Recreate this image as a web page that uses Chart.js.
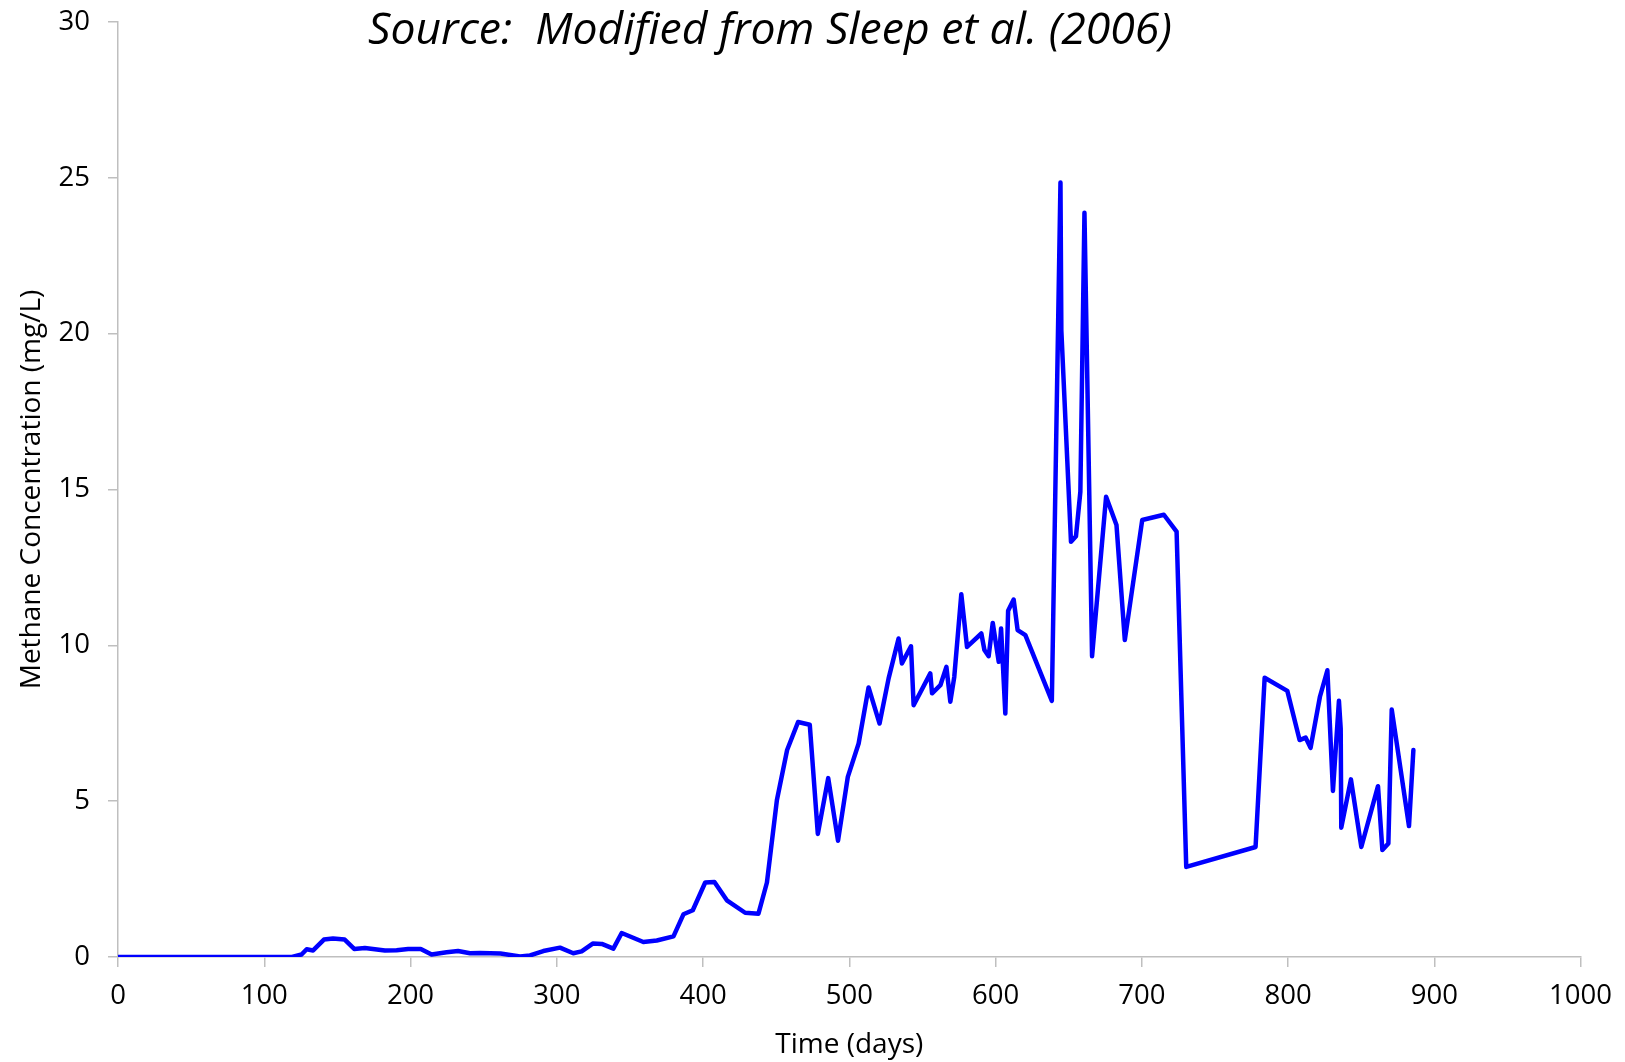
<!DOCTYPE html>
<html>
<head>
<meta charset="utf-8">
<title>Methane Concentration</title>
<script src="https://cdn.jsdelivr.net/npm/chart.js@4.4.0/dist/chart.umd.min.js"></script>
<style>
    html, body { margin: 0; padding: 0; background: #fff; }
    #wrap { width: 1625px; height: 1062px; position: relative; }
</style>
</head>
<body>
<div id="wrap"><canvas id="chart"></canvas></div>
<script>
// time since start of monitoring (days) and dissolved methane (mg/L)
const days = [
    0, 119, 125.5, 129, 133.4, 140.8, 147, 155, 161.5, 168.8,
    182.5, 190.5, 198.4, 207, 214.4, 224.7, 232.5, 240.7, 247.5, 261.5,
    274.9, 281.7, 290.8, 302.2, 311.3, 317, 324.6, 330.8, 338.7, 344.4,
    359.2, 368.4, 379.8, 386.6, 393, 401.5, 407.8, 416.3, 428.8, 437.9,
    443.7, 450.5, 457.5, 465, 473, 478.5, 485.6, 492.3, 499, 506.4,
    513.2, 520.7, 526.9, 533.7, 536, 542.2, 544, 555.4, 556.6, 562.3,
    566.4, 569.1, 571.8, 576.6, 580.5, 590.3, 592.4, 595.3, 598.1, 602.2,
    603.8, 606.7, 608.6, 612.4, 615.1, 620.4, 638.5, 644.4, 645, 651.6,
    655, 658, 660.8, 666, 675.6, 682.7, 688.4, 700.3, 715.1, 723.8,
    730.4, 777.8, 784, 799.5, 807.9, 812, 815.4, 821.8, 826.9, 830.7,
    834.8, 836, 836.4, 843, 850.1, 861.5, 864.5, 868.6, 870.9, 882.7,
    885.7
];
const methane = [
    0, 0, 0.08, 0.25, 0.21, 0.56, 0.59, 0.56, 0.26, 0.29,
    0.21, 0.22, 0.26, 0.26, 0.08, 0.15, 0.19, 0.12, 0.13, 0.11,
    0.02, 0.05, 0.19, 0.30, 0.12, 0.18, 0.43, 0.42, 0.27, 0.77,
    0.48, 0.53, 0.66, 1.37, 1.5, 2.39, 2.41, 1.82, 1.42, 1.39,
    2.39, 5.03, 6.64, 7.54, 7.45, 3.95, 5.74, 3.73, 5.78, 6.85,
    8.65, 7.49, 8.94, 10.22, 9.42, 9.97, 8.08, 9.1, 8.46, 8.72,
    9.31, 8.19, 8.99, 11.64, 9.95, 10.38, 9.85, 9.65, 10.72, 9.47,
    10.54, 7.81, 11.11, 11.47, 10.49, 10.33, 8.22, 24.85, 20.1, 13.32,
    13.5, 14.93, 23.88, 9.65, 14.77, 13.86, 10.17, 14.02, 14.19, 13.65,
    2.89, 3.53, 8.96, 8.54, 6.96, 7.04, 6.71, 8.35, 9.2, 5.33,
    8.22, 7.33, 4.15, 5.7, 3.53, 5.48, 3.43, 3.64, 7.94, 4.2,
    6.64
];

const xTicks = { min: 0, max: 1000, step: 100 };
const yTicks = { min: 0, max: 30, step: 5 };

const sourceNote = 'Source:  Modified from Sleep et al. (2006)';

const axisGrey = '#bfbfbf';
const fontFamily = '"Open Sans", "Liberation Sans", sans-serif';

// italic source note written across the top of the plot
const sourceNotePlugin = {
    id: 'sourceNote',
    afterDraw(chart) {
        const ctx = chart.ctx;
        ctx.save();
        ctx.font = 'italic 44.5px ' + fontFamily;
        ctx.fillStyle = '#000';
        ctx.textAlign = 'center';
        ctx.textBaseline = 'alphabetic';
        ctx.fillText(sourceNote, 770, 44);
        ctx.restore();
    }
};

const points = days.map((d, i) => ({ x: d, y: methane[i] }));

new Chart(document.getElementById('chart'), {
    type: 'line',
    data: {
        datasets: [{
            data: points,
            borderColor: '#0000ff',
            borderWidth: 4.5,
            borderJoinStyle: 'round',
            borderCapStyle: 'round',
            pointRadius: 0,
            tension: 0,
            fill: false
        }]
    },
    options: {
        responsive: true,
        maintainAspectRatio: false,
        animation: false,
        layout: { padding: { top: 22, right: 42, left: 0, bottom: 0 } },
        plugins: {
            legend: { display: false },
            tooltip: { enabled: false }
        },
        scales: {
            x: {
                type: 'linear',
                min: xTicks.min,
                max: xTicks.max,
                afterFit(scale) { scale.height = 105; },
                ticks: {
                    stepSize: xTicks.step,
                    color: '#000',
                    padding: 13,
                    maxRotation: 0,
                    format: { useGrouping: false },
                    font: { family: fontFamily, size: 27.5 }
                },
                grid: {
                    drawOnChartArea: false,
                    drawTicks: true,
                    tickLength: 10,
                    color: axisGrey,
                    lineWidth: 1.5
                },
                border: { display: true, color: axisGrey, width: 1.5 },
                title: {
                    display: true,
                    text: 'Time (days)',
                    color: '#000',
                    padding: { top: 1, bottom: 0 },
                    font: { family: fontFamily, size: 28 }
                }
            },
            y: {
                type: 'linear',
                min: yTicks.min,
                max: yTicks.max,
                afterFit(scale) {
                    // top of the axis sits on the layout padding, not the label overhang
                    scale.width = 118;
                    scale.paddingTop = 0;
                    scale.paddingBottom = 0;
                },
                ticks: {
                    stepSize: yTicks.step,
                    color: '#000',
                    padding: 18,
                    font: { family: fontFamily, size: 27.5 }
                },
                grid: {
                    drawOnChartArea: false,
                    drawTicks: true,
                    tickLength: 10,
                    color: axisGrey,
                    lineWidth: 1.5
                },
                border: { display: true, color: axisGrey, width: 1.5 },
                title: {
                    display: true,
                    text: 'Methane Concentration (mg/L)',
                    color: '#000',
                    padding: { top: 15, bottom: 0 },
                    font: { family: fontFamily, size: 28 }
                }
            }
        }
    },
    plugins: [sourceNotePlugin]
});
</script>
</body>
</html>
